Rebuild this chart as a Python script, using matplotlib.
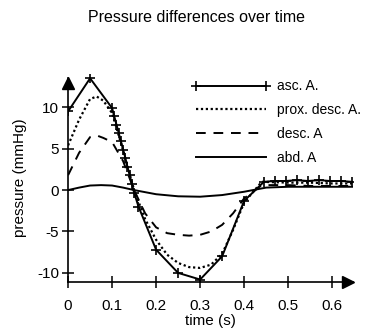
import matplotlib
matplotlib.use("Agg")
import matplotlib.pyplot as plt

plt.rcParams['font.family'] = ['Liberation Sans', 'DejaVu Sans']

title = "Pressure differences over time"
xlabel = "time (s)"
ylabel = "pressure (mmHg)"
labels = ["asc. A.", "prox. desc. A.", "desc. A", "abd. A"]

t_asc = [0, 0.05, 0.1, 0.105, 0.11, 0.115, 0.12, 0.125, 0.13, 0.135, 0.14, 0.145, 0.15, 0.16,
         0.2, 0.25, 0.3, 0.35, 0.4, 0.445, 0.47, 0.495, 0.52, 0.545, 0.57, 0.595, 0.62, 0.645]
asc = [9.5, 13.5, 9.9, 8.9, 7.9, 6.9, 5.9, 4.9, 3.9, 2.8, 1.8, 0.7, -0.3, -2.0,
       -7.2, -10.0, -10.8, -8.0, -1.3, 1.0, 1.1, 1.1, 1.2, 1.1, 1.2, 1.1, 1.1, 1.0]

t_prox = [0, 0.025, 0.05, 0.065, 0.08, 0.1, 0.125, 0.15, 0.175, 0.2, 0.225, 0.25, 0.275,
          0.3, 0.325, 0.35, 0.375, 0.4, 0.44, 0.5, 0.55, 0.6, 0.65]
prox = [5.4, 8.5, 11.0, 11.3, 10.8, 9.3, 4.8, 0.0, -3.5, -6.0, -7.8, -8.8, -9.3,
        -9.4, -9.0, -7.7, -4.8, -1.5, 1.0, 0.9, 0.9, 0.8, 0.8]

t_desc = [0, 0.025, 0.05, 0.065, 0.08, 0.1, 0.125, 0.15, 0.175, 0.2, 0.225, 0.25, 0.275,
          0.3, 0.325, 0.35, 0.375, 0.4, 0.44, 0.5, 0.55, 0.6, 0.65]
desc = [1.8, 4.5, 6.4, 6.6, 6.3, 5.8, 3.5, 0.0, -2.8, -4.5, -5.2, -5.4, -5.5,
        -5.4, -5.0, -4.2, -2.8, -1.0, 0.6, 0.6, 0.5, 0.5, 0.5]

t_abd = [0, 0.025, 0.05, 0.075, 0.1, 0.125, 0.15, 0.2, 0.25, 0.3, 0.35, 0.4, 0.45,
         0.5, 0.55, 0.6, 0.65]
abd = [0.0, 0.3, 0.55, 0.6, 0.55, 0.3, 0.0, -0.5, -0.75, -0.8, -0.6, -0.2, 0.3,
       0.4, 0.4, 0.4, 0.4]

xticks = [0, 0.1, 0.2, 0.3, 0.4, 0.5, 0.6]
xticklabels = ["0", "0.1", "0.2", "0.3", "0.4", "0.5", "0.6"]
yticks = [-10, -5, 0, 5, 10]
yticklabels = ["-10", "-5", "0", "5", "10"]

fig = plt.figure(figsize=(3.68, 3.31), dpi=100)
ax = fig.add_axes([0.185, 0.148, 0.775, 0.628])

lw = 1.4
ax.plot(t_asc, asc, color='black', lw=lw, marker='+', ms=7, mew=1.2, label=labels[0])
ax.plot(t_prox, prox, color='black', lw=1.6, ls=(0, (1, 1.2)), label=labels[1])
ax.plot(t_desc, desc, color='black', lw=lw, ls=(0, (5, 4)), label=labels[2])
ax.plot(t_abd, abd, color='black', lw=lw, label=labels[3])

xmax = 0.648
ymin, ymax = -11.1, 14.0
ax.set_xlim(0, xmax)
ax.set_ylim(ymin, ymax)

for s in ['top', 'right']:
    ax.spines[s].set_visible(False)
ax.spines['left'].set_bounds(ymin, 13.5)
ax.spines['left'].set_linewidth(1.2)
ax.spines['bottom'].set_linewidth(1.2)

# axis arrows
ax.plot([0], [12.9], marker='^', color='black', ms=9, clip_on=False)
ax.plot([xmax - 0.012], [ymin], marker='>', color='black', ms=9, clip_on=False)

ax.set_xticks(xticks)
ax.set_xticklabels(xticklabels)
ax.set_yticks(yticks)
ax.set_yticklabels(yticklabels)
ax.tick_params(axis='both', direction='inout', length=9, width=1.1, labelsize=11,
               colors='black')
ax.tick_params(axis='x', pad=8)
ax.tick_params(axis='y', pad=2)

ax.set_xlabel(xlabel, fontsize=11, labelpad=0.5)
ax.set_ylabel(ylabel, fontsize=11, labelpad=7)
fig.text(196 / 368, 1 - 18 / 331, title, ha='center', va='center', fontsize=11.5)

leg = ax.legend(loc='upper right', bbox_to_anchor=(1.07, 1.035), frameon=False,
                fontsize=10, handlelength=5.6, handletextpad=0.5, labelspacing=0.7,
                numpoints=2)

fig.savefig("out.png", dpi=100)
